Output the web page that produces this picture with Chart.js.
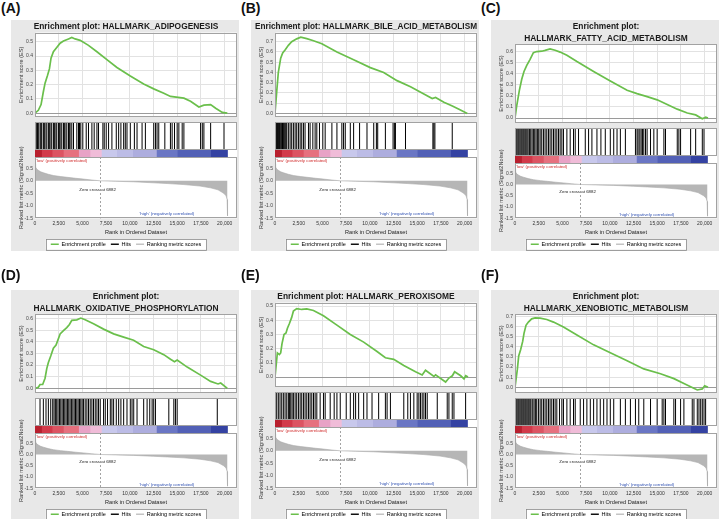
<!DOCTYPE html>
<html>
<head>
<meta charset="utf-8">
<script src="https://cdn.jsdelivr.net/npm/chart.js@4.4.1/dist/chart.umd.min.js"></script>
<style>
  body { margin: 0; background: #fff; font-family: "Liberation Sans", Arial, sans-serif; }
  #fig { position: relative; width: 720px; height: 519px; overflow: hidden; background: #fff; }
  .tag { position: absolute; font: bold 14px "Liberation Sans", Arial, sans-serif; line-height: 18px; color: #111; }
  .box { position: absolute; background: #e8e8e8; overflow: hidden; }
  .box canvas { position: absolute; }
</style>
</head>
<body>
<div id="fig"></div>
<script>
const X_MAX = 21300;
const ZERO_CROSS = 6882;

// x axis ticks (rank in ordered dataset)
const rankTicks = [0, 2500, 5000, 7500, 10000, 12500, 15000, 17500, 20000];
const rankTickLabels = ['0', '2,500', '5,000', '7,500', '10,000', '12,500', '15,000', '17,500', '20,000'];

// ranked list metric (Signal2Noise), same list in every panel
const metricRanks = [0, 60, 200, 350, 600, 900, 1400, 1950, 2700, 3400, 4300, 5100, 6000, 6882, 8500, 10400, 12500, 14000, 15700, 17400, 18500, 19300, 19900, 20150, 20260, 20300];
const metricValues = [0.68, 0.55, 0.46, 0.42, 0.36, 0.32, 0.26, 0.21, 0.17, 0.14, 0.1, 0.07, 0.03, 0, -0.02, -0.04, -0.08, -0.11, -0.15, -0.21, -0.28, -0.36, -0.5, -0.6, -0.75, -1.4];

// phenotype colour bar, segment edges along the ranked list
const barEdges = [0, 700, 1800, 3000, 4600, 5800, 7000, 8600, 10300, 12800, 15000, 18500, 20300];
const barColors = ['#b8202e', '#d23a4a', '#dc5462', '#e6707e', '#e8a2c6', '#f0bcd8', '#c8c8ec', '#bcbce6', '#adadde', '#6a76c4', '#5260b6', '#3442a2'];

// (A) adipogenesis
const esRanksA = [0, 100, 350, 640, 880, 1060, 1300, 1520, 1690, 1940, 2290, 2650, 3000, 3530, 3880, 4230, 4760, 5640, 6530, 7580, 8640, 10050, 11460, 12520, 13580, 14290, 15700, 16400, 17280, 17810, 18520, 19050, 19750, 20280];
const esA = [0, 0, 0.02, 0.06, 0.15, 0.21, 0.26, 0.31, 0.385, 0.43, 0.46, 0.49, 0.505, 0.52, 0.53, 0.52, 0.51, 0.475, 0.43, 0.375, 0.32, 0.26, 0.205, 0.17, 0.14, 0.117, 0.105, 0.083, 0.043, 0.056, 0.06, 0.034, 0.005, 0];
const hitsA = [180, 270, 350, 530, 620, 710, 880, 970, 1060, 1240, 1410, 1500, 1590, 1760, 1940, 2030, 2120, 2290, 2470, 2560, 2650, 2820, 3000, 3080, 3170, 3350, 3530, 3610, 3700, 3880, 4060, 4410, 4590, 4690, 4830, 5040, 5400, 5640, 6000, 6240, 6530, 6700, 7160, 7300, 7510, 7760, 8110, 8570, 8820, 9060, 9350, 9520, 9700, 10050, 10480, 10760, 11290, 11640, 12520, 12700, 12870, 13050, 13690, 14280, 14460, 14710, 14990, 15170, 15520, 15700, 17460, 17640, 17810, 18520, 19930];

// (B) bile acid metabolism
const esRanksB = [0, 180, 350, 600, 810, 1060, 1410, 1760, 2290, 2720, 3350, 4060, 4940, 6530, 8290, 10050, 11460, 12870, 14290, 15700, 16580, 16930, 17810, 18700, 19400, 20280];
const esB = [0, 0.21, 0.4, 0.54, 0.59, 0.62, 0.665, 0.7, 0.728, 0.745, 0.73, 0.71, 0.68, 0.6, 0.525, 0.447, 0.4, 0.32, 0.26, 0.19, 0.145, 0.156, 0.11, 0.072, 0.04, 0];
const hitsB = [110, 180, 250, 320, 390, 460, 530, 620, 710, 790, 880, 970, 1060, 1150, 1240, 1410, 1590, 1760, 1940, 2120, 2290, 2470, 2650, 2820, 3000, 3170, 3530, 3700, 3990, 4230, 4410, 4690, 5040, 5290, 6000, 6530, 7050, 7230, 7410, 7940, 8290, 8920, 9700, 10410, 10690, 10830, 11640, 12450, 12590, 12700, 13760, 16650, 16750, 16860, 18690];

// (C) fatty acid metabolism
const esRanksC = [0, 180, 460, 710, 950, 1240, 1590, 1940, 2290, 2820, 3170, 3700, 4230, 4760, 5470, 6530, 8290, 10050, 11820, 12870, 13930, 14990, 16050, 17110, 18170, 19050, 19750, 20110, 20350];
const esC = [0, 0.11, 0.25, 0.35, 0.42, 0.475, 0.53, 0.59, 0.6, 0.603, 0.61, 0.623, 0.612, 0.595, 0.567, 0.51, 0.42, 0.334, 0.25, 0.22, 0.193, 0.164, 0.122, 0.08, 0.045, 0.028, -0.006, 0.008, 0];
const hitsC = [110, 210, 320, 420, 530, 640, 740, 850, 950, 1060, 1160, 1270, 1380, 1520, 1660, 1800, 1940, 2080, 2220, 2360, 2500, 2650, 2820, 3000, 3170, 3350, 3530, 3700, 3880, 4060, 4230, 4410, 4590, 4760, 4940, 5110, 5470, 5820, 6170, 6350, 6700, 7410, 7760, 8110, 8640, 9060, 9520, 10050, 10410, 10760, 11110, 11640, 12700, 12870, 12980, 13160, 13300, 13440, 13580, 13760, 13930, 14290, 14640, 14990, 15700, 15870, 17110, 17280, 17460, 18520, 19050, 19750, 19930];

// (D) oxidative phosphorylation
const esRanksD = [0, 350, 530, 810, 1060, 1240, 1410, 1660, 1940, 2220, 2650, 3000, 3350, 3630, 3880, 4410, 4830, 5290, 6170, 7230, 8290, 9350, 10400, 11460, 12520, 13580, 14290, 14710, 14990, 16050, 17460, 18520, 19300, 19580, 20280];
const esD = [0, 0.01, 0.033, 0.033, 0.087, 0.17, 0.223, 0.278, 0.346, 0.373, 0.469, 0.496, 0.523, 0.55, 0.586, 0.59, 0.605, 0.59, 0.556, 0.51, 0.469, 0.441, 0.414, 0.36, 0.332, 0.29, 0.25, 0.229, 0.243, 0.183, 0.114, 0.06, 0.038, 0.046, 0];
const hitsD = [530, 880, 1160, 1410, 1660, 1870, 2010, 2150, 2290, 2430, 2580, 2720, 2860, 3000, 3140, 3280, 3420, 3560, 3700, 3840, 3990, 4130, 4270, 4410, 4550, 4690, 4830, 4970, 5110, 5290, 5470, 5640, 5820, 6000, 6170, 6350, 6530, 6700, 6880, 7230, 7410, 7650, 7940, 8110, 8290, 8570, 8820, 9060, 9350, 9700, 10050, 10230, 10410, 10760, 11460, 11820, 12100, 12350, 12520, 12700, 14110, 14640, 14810, 14990, 19220];

// (E) peroxisome
const esRanksE = [0, 250, 460, 600, 740, 950, 1160, 1310, 1520, 1760, 1940, 2290, 2820, 3350, 4060, 5110, 6530, 7940, 9350, 10760, 11640, 12520, 13580, 14820, 15520, 15870, 16760, 16930, 17990, 18340, 18700, 18940, 19580, 19930, 20110, 20350];
const esE = [0, 0.17, 0.158, 0.17, 0.235, 0.3, 0.31, 0.344, 0.377, 0.42, 0.465, 0.482, 0.476, 0.48, 0.469, 0.432, 0.366, 0.3, 0.246, 0.18, 0.136, 0.125, 0.081, 0.037, 0.015, 0.048, 0.004, 0.015, -0.035, -0.007, 0.009, 0.037, 0.009, -0.013, 0.009, 0];
const hitsE = [180, 350, 530, 710, 880, 1060, 1240, 1410, 1520, 1660, 1800, 1940, 2120, 2290, 2470, 2650, 2820, 3000, 3170, 3350, 3530, 3700, 3880, 4060, 4230, 4410, 4760, 5110, 5290, 5820, 6240, 6530, 6880, 7510, 7940, 8290, 8500, 8820, 9350, 9700, 10230, 10930, 11640, 11820, 12170, 13580, 14000, 14280, 14640, 14990, 15170, 15340, 15520, 15700, 15870, 16050, 17110, 18160, 18340, 18690, 18870, 20100];

// (F) xenobiotic metabolism
const esRanksF = [0, 250, 390, 600, 810, 950, 1160, 1410, 1760, 2120, 2650, 3350, 4060, 5110, 6530, 8290, 10050, 11820, 13580, 15340, 16760, 17810, 18520, 19220, 19750, 20000, 20350];
const esF = [0, 0.18, 0.31, 0.374, 0.454, 0.534, 0.613, 0.645, 0.677, 0.687, 0.684, 0.671, 0.645, 0.597, 0.518, 0.42, 0.342, 0.262, 0.182, 0.134, 0.086, 0.038, 0.006, -0.026, -0.016, 0.016, 0];
const hitsF = [110, 210, 320, 420, 530, 640, 740, 850, 950, 1060, 1160, 1270, 1380, 1480, 1590, 1690, 1870, 2010, 2150, 2290, 2470, 2650, 2820, 3000, 3170, 3350, 3530, 3700, 3880, 4060, 4230, 4410, 4690, 4940, 5110, 5470, 5820, 6170, 6350, 6880, 7230, 7580, 7940, 8290, 8640, 8990, 9350, 9700, 10050, 10410, 11110, 11640, 12170, 12700, 13050, 13580, 14290, 14990, 15520, 15700, 15870, 16750, 16930, 17460, 17810, 18690, 18870, 19220, 19400, 19580, 19750, 19930, 20100];

const panels = [
  { tag: '(A)', title: ['Enrichment plot: HALLMARK_ADIPOGENESIS'], ranks: esRanksA, es: esA, hits: hitsA, yMin: -0.027, yMax: 0.565 },
  { tag: '(B)', title: ['Enrichment plot: HALLMARK_BILE_ACID_METABOLISM'], ranks: esRanksB, es: esB, hits: hitsB, yMin: -0.035, yMax: 0.79 },
  { tag: '(C)', title: ['Enrichment plot:', 'HALLMARK_FATTY_ACID_METABOLISM'], ranks: esRanksC, es: esC, hits: hitsC, yMin: -0.045, yMax: 0.668 },
  { tag: '(D)', title: ['Enrichment plot:', 'HALLMARK_OXIDATIVE_PHOSPHORYLATION'], ranks: esRanksD, es: esD, hits: hitsD, yMin: -0.04, yMax: 0.64 },
  { tag: '(E)', title: ['Enrichment plot: HALLMARK_PEROXISOME'], ranks: esRanksE, es: esE, hits: hitsE, yMin: -0.07, yMax: 0.525 },
  { tag: '(F)', title: ['Enrichment plot:', 'HALLMARK_XENOBIOTIC_METABOLISM'], ranks: esRanksF, es: esF, hits: hitsF, yMin: -0.056, yMax: 0.725 },
];

const GREEN = '#6abf4b';
const FONT = '"Liberation Sans", Arial, sans-serif';
Chart.defaults.font.family = FONT;
Chart.defaults.color = '#333';

const BOX_W = 228;
const BOX_H = 231;
const AXIS_W = 20;
const PAD = { left: 4, right: 2, top: 0, bottom: 0 };
const fixWidth = (scale) => { scale.width = AXIS_W; };
const useRankTicks = (scale) => { scale.ticks = rankTicks.map(v => ({ value: v })); };

const base = { responsive: false, animation: false, events: [], devicePixelRatio: 1 };

// white plot background + thin grey frame
const frame = {
  id: 'frame',
  beforeDraw(chart) {
    const { ctx, chartArea: a } = chart;
    ctx.save();
    ctx.fillStyle = '#fff';
    ctx.fillRect(a.left, a.top, a.width, a.height);
    ctx.restore();
  },
  afterDraw(chart, args, opts) {
    if (opts.noBorder) return;
    const { ctx, chartArea: a } = chart;
    ctx.save();
    ctx.strokeStyle = '#a2a2a2';
    ctx.lineWidth = 1;
    ctx.strokeRect(Math.round(a.left) + 0.5, Math.round(a.top) + 0.5, Math.round(a.width) - 1, Math.round(a.height) - 1);
    ctx.restore();
  }
};

// notes on the ranked-list plot and the boxed legend
const rankNotes = {
  id: 'rankNotes',
  beforeDraw(chart) {
    const hb = chart.legend.legendHitBoxes;
    if (!hb || !hb.length) return;
    const l = Math.min(...hb.map(b => b.left)) - 5;
    const r = Math.max(...hb.map(b => b.left + b.width)) + 5;
    const t = hb[0].top - 2.5;
    const h = hb[0].height + 5;
    const ctx = chart.ctx;
    ctx.save();
    ctx.fillStyle = '#fff';
    ctx.fillRect(l, t, r - l, h);
    ctx.strokeStyle = '#8a8a8a';
    ctx.lineWidth = 0.8;
    ctx.strokeRect(Math.round(l) + 0.5, Math.round(t) + 0.5, Math.round(r - l), Math.round(h));
    ctx.restore();
  },
  afterDatasetsDraw(chart) {
    const { ctx, chartArea: a, scales: { x, y } } = chart;
    const zx = Math.round(x.getPixelForValue(ZERO_CROSS)) + 0.5;
    ctx.save();
    ctx.strokeStyle = '#8c8c8c';
    ctx.lineWidth = 0.8;
    ctx.setLineDash([2, 2]);
    ctx.beginPath();
    ctx.moveTo(zx, a.top);
    ctx.lineTo(zx, a.bottom);
    ctx.stroke();
    ctx.setLineDash([]);
    ctx.font = '4.4px ' + FONT;
    ctx.textBaseline = 'middle';
    ctx.textAlign = 'left';
    ctx.fillStyle = '#d02a2a';
    ctx.fillText("'low' (positively correlated)", a.left + 1, a.top + 3.5);
    ctx.textAlign = 'center';
    ctx.fillStyle = '#222';
    ctx.fillText('Zero cross at ' + ZERO_CROSS, x.getPixelForValue(6600), y.getPixelForValue(-0.34));
    ctx.fillStyle = '#2d4fb2';
    ctx.fillText("'high' (negatively correlated)", x.getPixelForValue(13900), y.getPixelForValue(-1.32));
    ctx.restore();
  }
};

const legendItems = [
  { text: 'Enrichment profile', fillStyle: GREEN, strokeStyle: GREEN, lineWidth: 0, hidden: false },
  { text: 'Hits', fillStyle: '#111', strokeStyle: '#111', lineWidth: 0, hidden: false },
  { text: 'Ranking metric scores', fillStyle: '#c4c4c4', strokeStyle: '#c4c4c4', lineWidth: 0, hidden: false },
];

const fig = document.getElementById('fig');

function addCanvas(parent, top, h) {
  const c = document.createElement('canvas');
  c.width = BOX_W;
  c.height = h;
  c.style.left = '0px';
  c.style.top = top + 'px';
  c.style.width = BOX_W + 'px';
  c.style.height = h + 'px';
  parent.appendChild(c);
  return c.getContext('2d');
}

const hiddenY = { display: true, afterFit: fixWidth, ticks: { display: false }, grid: { display: false, drawTicks: false }, border: { display: false } };

panels.forEach((p, i) => {
  const col = i % 3;
  const row = Math.floor(i / 3);
  const colX = col * 240;
  const boxTop = row ? 290 : 20;

  const tag = document.createElement('div');
  tag.className = 'tag';
  tag.textContent = p.tag;
  tag.style.left = (colX + 1) + 'px';
  tag.style.top = (row ? 266 : -1) + 'px';
  fig.appendChild(tag);

  const box = document.createElement('div');
  box.className = 'box';
  box.style.left = (colX + 11) + 'px';
  box.style.top = boxTop + 'px';
  box.style.width = BOX_W + 'px';
  box.style.height = BOX_H + 'px';
  fig.appendChild(box);

  const hitsTop = p.title.length > 1 ? 108 : 102;
  const barTop = hitsTop + 28;
  const barBottom = barTop + 7;
  const rankTop = barBottom - 40;

  // running enrichment score
  new Chart(addCanvas(box, 0, hitsTop), {
    type: 'line',
    data: { datasets: [{ data: p.ranks.map((r, k) => ({ x: r, y: p.es[k] })), borderColor: GREEN, borderWidth: 1.7, pointRadius: 0, tension: 0, fill: false }] },
    options: {
      ...base,
      layout: { padding: PAD, autoPadding: false },
      plugins: {
        legend: { display: false },
        title: { display: true, text: p.title, color: '#1a1a1a', font: { size: 8.4, weight: 'bold', lineHeight: 1.37 }, padding: { top: 1, bottom: 0 } },
      },
      scales: {
        x: { type: 'linear', min: 0, max: X_MAX, afterBuildTicks: useRankTicks, ticks: { display: false }, grid: { color: '#e2e2e2', drawTicks: false }, border: { display: false } },
        y: {
          min: p.yMin, max: p.yMax, afterFit: fixWidth,
          ticks: { stepSize: 0.1, includeBounds: false, font: { size: 5 }, color: '#444', padding: 2, callback: v => v.toFixed(1) },
          grid: { drawTicks: false, color: c => (c.tick && Math.abs(c.tick.value) < 1e-9 ? '#9a9a9a' : '#e2e2e2') },
          border: { display: false },
          title: { display: true, text: 'Enrichment score (ES)', color: '#333', font: { size: 5.6 }, padding: { top: 3, bottom: 0 } },
        },
      },
    },
    plugins: [frame],
  });

  // hit positions
  new Chart(addCanvas(box, hitsTop, 28), {
    type: 'scatter',
    data: { datasets: [{ data: p.hits.map(r => ({ x: r, y: 0.5 })), pointStyle: 'line', rotation: 90, radius: 14, borderWidth: 1, borderColor: '#000' }] },
    options: {
      ...base,
      layout: { padding: PAD, autoPadding: false },
      plugins: { legend: { display: false } },
      scales: {
        x: { type: 'linear', min: 0, max: X_MAX, display: false },
        y: { ...hiddenY, min: 0, max: 1 },
      },
    },
    plugins: [frame],
  });

  // phenotype colour bar
  new Chart(addCanvas(box, barTop, 7), {
    type: 'bar',
    data: {
      labels: [''],
      datasets: barColors.map((c, k) => ({ data: [[barEdges[k], barEdges[k + 1]]], backgroundColor: c, borderWidth: 0, grouped: false, barPercentage: 1, categoryPercentage: 1 })),
    },
    options: {
      ...base,
      indexAxis: 'y',
      layout: { padding: PAD, autoPadding: false },
      plugins: { legend: { display: false }, frame: { noBorder: true } },
      scales: {
        x: { type: 'linear', min: 0, max: X_MAX, display: false },
        y: { ...hiddenY },
      },
    },
    plugins: [frame],
  });

  // ranked list metric
  new Chart(addCanvas(box, rankTop, BOX_H - rankTop), {
    type: 'line',
    data: { datasets: [{ data: metricRanks.map((r, k) => ({ x: r, y: metricValues[k] })), fill: 'origin', backgroundColor: '#b6b6b6', borderColor: '#a9a9a9', borderWidth: 0.6, pointRadius: 0, tension: 0 }] },
    options: {
      ...base,
      layout: { padding: { left: PAD.left, right: PAD.right, top: 40, bottom: -6 }, autoPadding: false },
      plugins: {
        legend: {
          display: true, position: 'bottom',
          labels: { generateLabels: () => legendItems, boxWidth: 8, boxHeight: 1.5, padding: 5, color: '#222', font: { size: 5.5 } },
        },
      },
      scales: {
        x: {
          type: 'linear', min: 0, max: X_MAX, afterBuildTicks: useRankTicks,
          ticks: { autoSkip: false, maxRotation: 0, font: { size: 5, lineHeight: 1 }, color: '#333', padding: 3, callback: (v, k) => rankTickLabels[k] },
          grid: { display: false, drawTicks: false }, border: { display: false },
          title: { display: true, text: 'Rank in Ordered Dataset', color: '#222', font: { size: 5.6, lineHeight: 1 }, padding: { top: 0, bottom: 1.5 } },
        },
        y: {
          min: -1.5, max: 0.95, afterFit: fixWidth,
          ticks: { stepSize: 0.5, includeBounds: false, font: { size: 5 }, color: '#444', padding: 2, callback: v => v.toFixed(1) },
          grid: { display: false, drawTicks: false }, border: { display: false },
          title: { display: true, text: 'Ranked list metric (Signal2Noise)', color: '#333', font: { size: 5.6 }, padding: { top: 3, bottom: 0 } },
        },
      },
    },
    plugins: [frame, rankNotes],
  });
});
</script>
</body>
</html>
